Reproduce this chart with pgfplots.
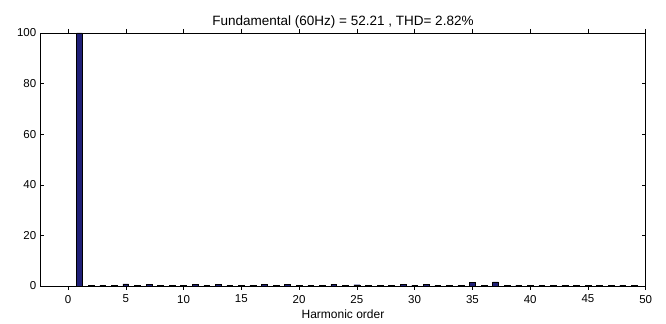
\documentclass[border=0pt]{standalone}
\usepackage{fontspec}
\setmainfont{Liberation Sans}
\usepackage{pgfplots}
\pgfplotsset{compat=1.18}
\definecolor{barblue}{RGB}{32,32,120}
\begin{document}
\fontsize{11.5}{13}\selectfont
\begin{tikzpicture}
\begin{axis}[
  scale only axis,
  width=605.4pt, height=253pt,
  xmin=-2.4, xmax=50, ymin=0, ymax=100,
  xtick={0,5,...,50}, ytick={0,20,...,100},
  tick align=inside, major tick length=4pt,
  tick style={black, line width=0.5pt},
  axis line style={black, line width=0.6pt},
  /pgf/number format/assume math mode=true,
  ticklabel style={font=\fontsize{11.5}{13}\selectfont},
  xticklabel style={yshift=-1pt},
  xlabel={Harmonic order},
  xlabel style={font=\fontsize{12}{14}\selectfont, yshift=1pt},
  title={Fundamental (60Hz) = 52.21 , THD= 2.82\%},
  title style={font=\fontsize{13.5}{15}\selectfont, yshift=-5pt},
  ybar, bar width=0.5, bar shift=0pt,
  clip=false,
]
\addplot[fill=barblue, draw=black, line width=0.4pt] coordinates {
(1,100) (2,0.25) (3,0.3) (4,0.25) (5,0.8) (6,0.25) (7,0.7) (8,0.25) (9,0.25) (10,0.25)
(11,0.6) (12,0.25) (13,0.7) (14,0.25) (15,0.25) (16,0.25) (17,0.6) (18,0.25) (19,0.7) (20,0.25)
(21,0.25) (22,0.25) (23,0.6) (24,0.25) (25,0.5) (26,0.25) (27,0.25) (28,0.25) (29,0.6) (30,0.25)
(31,0.6) (32,0.25) (33,0.25) (34,0.25) (35,1.5) (36,0.25) (37,1.6) (38,0.25) (39,0.25) (40,0.25)
(41,0.25) (42,0.25) (43,0.25) (44,0.25) (45,0.25) (46,0.25) (47,0.25) (48,0.25) (49,0.25)
};
\path[use as bounding box] ([xshift=-40.3pt,yshift=-38pt]rel axis cs:0,0) rectangle ([xshift=20.3pt,yshift=33pt]rel axis cs:1,1);
\end{axis}
\end{tikzpicture}
\end{document}
